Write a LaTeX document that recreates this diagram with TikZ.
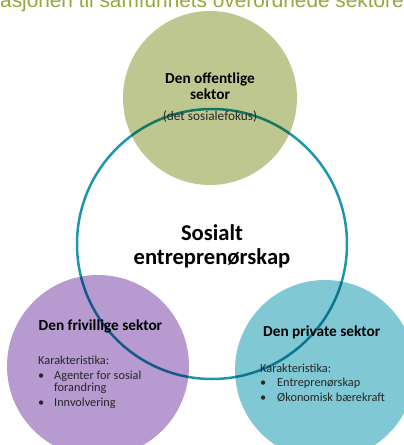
\documentclass[tikz,border=0pt]{standalone}
\usepackage{fontspec}
\setmainfont{Carlito}
\newfontfamily\titlefont{Liberation Sans}
\definecolor{offgreen}{HTML}{BFC791}
\definecolor{frililla}{HTML}{B69AD0}
\definecolor{privblue}{HTML}{80C8D4}
\definecolor{ringteal}{HTML}{1B96AC}
\definecolor{titleolive}{HTML}{94A83C}
\definecolor{textgray}{HTML}{262626}
\tikzset{
    offentlig/.style={circle, fill=offgreen, minimum size=174pt, inner sep=0},
    frivillig/.style={circle, fill=frililla, minimum size=182pt, inner sep=0},
    privat/.style={circle, fill=privblue, minimum size=180pt, inner sep=0},
    ring/.style={circle, draw=ringteal, line width=2.5pt, minimum size=270pt, inner sep=0},
    head/.style={font=\fontsize{15.3}{16}\selectfont\bfseries, inner sep=0, anchor=base},
    small/.style={font=\fontsize{12.3}{11.5}\selectfont, text=textgray, inner sep=0, align=left, anchor=base west}
}

\begin{document}
\begin{tikzpicture}[x=1pt, y=-1pt]
    \useasboundingbox (0,0) rectangle (404,445);
    \clip (0,0) rectangle (404,445);
    % title, cut at the top
    \node[font=\titlefont\fontsize{20.8}{24}\selectfont, text=titleolive, anchor=base west, inner sep=0] (title) at (0,7.5) {\llap{Rel}asjonen til samfunnets overordnede sektorer};
    % the ring and the three sectors
    \node[ring] (ring) at (212,244) {};
    \begin{scope}[blend mode=multiply]
        \node[offentlig] (off) at (210,98) {};
        \node[frivillig] (fri) at (98,366) {};
        \node[privat] (priv) at (325,370) {};
    \end{scope}
    % texts (base = last line)
    \node[head, align=center] (offhead) at (210,99.3) {Den offentlige\\sektor};
    \node[font=\fontsize{13.3}{13}\selectfont, text=textgray, inner sep=0, anchor=base] (offsub) at (210,120.7) {(det sosialefokus)};
    \node[font=\fontsize{22.6}{24}\selectfont\bfseries, text=black, inner sep=0, anchor=base, align=center] (sosialt) at (212,264) {Sosialt\\entreprenørskap};
    \node[head, anchor=base west] (frihead) at (38.5,330.7) {Den frivillige sektor};
    \node[small] (frilist) at (38,406) {Karakteristika:\\[4pt]
        \makebox[16pt][l]{\textbullet}Agenter for sosial\\
        \hspace*{16pt}forandring\\[3.5pt]
        \makebox[16pt][l]{\textbullet}Innvolvering};
    \node[head, anchor=base west] (privhead) at (263,336) {Den private sektor};
    \node[small] (privlist) at (260,401.7) {Karakteristika:\\[2.5pt]
        \makebox[17pt][l]{\textbullet}Entreprenørskap\\[3.5pt]
        \makebox[17pt][l]{\textbullet}Økonomisk bærekraft};
\end{tikzpicture}
\end{document}
